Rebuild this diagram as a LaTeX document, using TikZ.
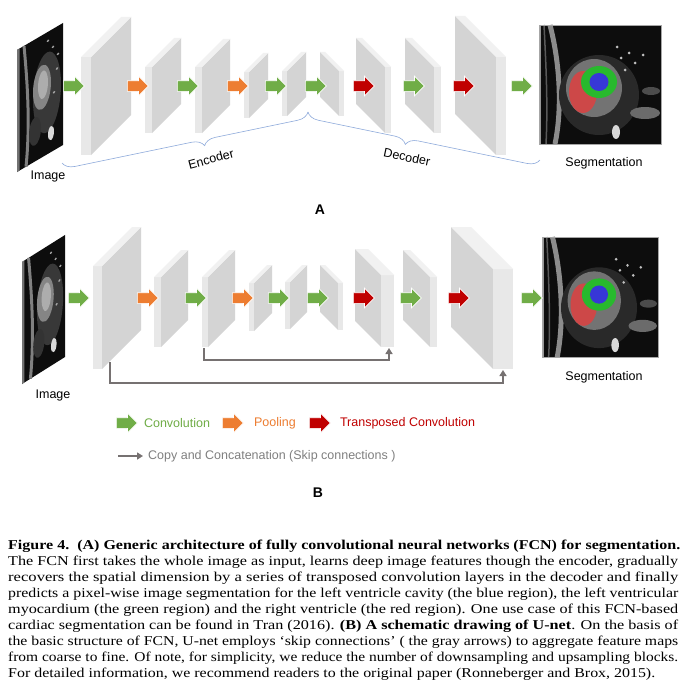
\documentclass[tikz,border=0pt]{standalone}
\usepackage{graphicx}
\usepackage{fontspec}
\setmainfont{Liberation Serif}
\setsansfont{Liberation Sans}
\usetikzlibrary{shapes,arrows.meta,positioning,decorations.pathreplacing}

\definecolor{convgreen}{RGB}{112,173,71}
\definecolor{poolorange}{RGB}{237,125,49}
\definecolor{tconvred}{RGB}{192,0,0}
\definecolor{skipgray}{RGB}{118,113,113}
\definecolor{skiptext}{RGB}{128,128,128}
\definecolor{braceblue}{RGB}{142,170,219}
\definecolor{slabface}{RGB}{212,212,212}
\definecolor{slabedge}{RGB}{232,232,232}
\definecolor{slabtop}{RGB}{241,241,241}
\definecolor{segred}{RGB}{205,72,72}
\definecolor{seggreen}{RGB}{40,185,45}
\definecolor{segblue}{RGB}{55,55,215}

\newcommand{\capline}[2]{\resizebox{#1}{\height}{#2}}

\tikzset{
  % input MRI slice, drawn in its own box (46 x 122)
  mri/.pic={
    \fill[black!95] (0,0) rectangle (46,122);
    \fill[black!55] (0,0) rectangle (2.5,122); % outer edge
    \draw[black!50, line width=3pt] (7,0) .. controls (11,45) and (13,85) .. (9,122); % body wall
    \fill[black!78] (30,60) ellipse [x radius=14, y radius=40]; % soft tissue
    \fill[black!48] (25,52) ellipse [x radius=9, y radius=22]; % heart
    \fill[black!32] (26,50) ellipse [x radius=5, y radius=14];
    \fill[black!80] (18,92) ellipse [x radius=6, y radius=14];
    \fill[white!85!black] (34,103) ellipse [x radius=3, y radius=7]; % bright spot
    \foreach \p in {(36,18),(41,28),(31,9),(40,42),(37,64)}
      \fill[black!35] \p circle (1.3);
  },
  % segmented slice (122 x 119)
  segimg/.pic={
    \fill[black!95] (0,0) rectangle (122,119);
    \fill[black!40] (0,0) rectangle (2,119);
    \draw[black!65, line width=1.5pt] (5,0) .. controls (7,40) and (9,80) .. (7,119);
    \draw[black!45, line width=5pt] (11,0) .. controls (20,35) and (24,80) .. (16,119); % body wall
    \fill[black!84] (60,70) ellipse [x radius=40, y radius=40]; % soft tissue
    \fill[black!55] (55,63) ellipse [x radius=28, y radius=29]; % tissue round the heart
    \fill[segred] (44,67) ellipse [x radius=14, y radius=21]; % right ventricle
    \fill[seggreen] (60,57) ellipse [x radius=18, y radius=16]; % myocardium
    \fill[segblue] (60,57) ellipse [x radius=9.5, y radius=9]; % cavity
    \fill[white!85!black] (77,107) ellipse [x radius=4, y radius=7]; % bright spot
    \fill[black!58] (106,88) ellipse [x radius=15, y radius=6];
    \fill[black!70] (112,66) ellipse [x radius=9, y radius=4];
    \foreach \p in {(82,33),(90,28),(96,38),(86,45),(104,30),(78,22)}
      \fill[black!25] \p circle (1.5);
    \draw[black!35, line width=0.6pt] (0,0) rectangle (122,119);
  }
}

\begin{document}
\begin{tikzpicture}[x=1pt, y=-1pt,
  lbl/.style={font=\sffamily\fontsize{12.5}{14}\selectfont, inner sep=0pt},
  panel/.style={font=\sffamily\bfseries\fontsize{14}{16}\selectfont, inner sep=0pt},
  blockarrow/.style={single arrow, draw=white, line width=0.7pt, minimum height=21pt,
    minimum width=19pt, single arrow head extend=4.5pt, inner xsep=0pt, inner ysep=5pt,
    anchor=tail},
  convarrow/.style={blockarrow, fill=convgreen},
  poolarrow/.style={blockarrow, fill=poolorange},
  tconvarrow/.style={blockarrow, fill=tconvred},
  skip/.style={draw=skipgray, line width=1.8pt, -{Triangle[width=7pt,length=6pt]}},
  bracket/.style={draw=braceblue, line width=0.6pt, decorate,
    decoration={brace, mirror, amplitude=12pt, aspect=#1}},
  capfont/.style={font=\fontsize{13.5}{16}\selectfont, inner sep=0pt, anchor=base west}]

  \fill[white] (0,0) rectangle (684,693);
  \useasboundingbox (0,0) rectangle (684,693);

  % input images
  \begin{scope}[shift={(17,50)}, yslant=0.587]
    \pic[transform shape] {mri};
  \end{scope}
  \begin{scope}[shift={(22,262)}, yslant=0.628, xscale=0.935]
    \pic[transform shape] {mri};
  \end{scope}

  % output segmentations
  \begin{scope}[shift={(539,25)}]
    \pic[transform shape] {segimg};
  \end{scope}
  \begin{scope}[shift={(542,237)}, xscale=0.95, yscale=1.01]
    \pic[transform shape] {segimg};
  \end{scope}

  % encoder feature maps (front edge on the left)
  \foreach \a/\t/\b/\d/\w in {91/57/155/40/10, 152/67/133/29/7, 202/67/133/28/7,
      249/72/118/19/5, 287/71/116/19/5, 102/266/369/39/9, 161/277/347/27/7,
      208/277/347/27/6, 254/283/331/18/5, 290/282/329/17/5}{
    \fill[slabface] (\a,\t) -- (\a+\d,\t-\d) -- (\a+\d,\b-\d) -- (\a,\b) -- cycle;
    \fill[slabedge] (\a-\w,\t) rectangle (\a,\b);
    \fill[slabtop] (\a-\w,\t) -- (\a,\t) -- (\a+\d,\t-\d) -- (\a+\d-\w,\t-\d) -- cycle;
  }
  % decoder feature maps (front edge on the right)
  \foreach \a/\t/\b/\d/\w in {339/71/116/19/5, 385/67/133/29/6, 434/67/133/29/7,
      496/57/155/41/10, 338/283/330/18/5, 381/275/347/26/13, 430/277/347/27/7,
      493/269/369/42/20}{
    \fill[slabface] (\a-\d,\t-\d) -- (\a,\t) -- (\a,\b) -- (\a-\d,\b-\d) -- cycle;
    \fill[slabedge] (\a,\t) rectangle (\a+\w,\b);
    \fill[slabtop] (\a-\d,\t-\d) -- (\a-\d+\w,\t-\d) -- (\a+\w,\t) -- (\a,\t) -- cycle;
  }

  % layer arrows
  \foreach \x/\s [count=\i] in {63/convarrow, 127/poolarrow, 177/convarrow, 227/poolarrow,
      265/convarrow, 305/convarrow, 353/tconvarrow, 403/convarrow, 453/tconvarrow, 511/convarrow}
    \node[\s] (fa\i) at (\x,86) {};
  \foreach \x/\s [count=\i] in {68/convarrow, 137/poolarrow, 185/convarrow, 232/poolarrow,
      268/convarrow, 307/convarrow, 353/tconvarrow, 400/convarrow, 448/tconvarrow, 521/convarrow}
    \node[\s] (ua\i) at (\x,298) {};

  % braces
  \coordinate (encL) at (62,163);
  \coordinate (encR) at (308,112);
  \coordinate (decR) at (540,160);
  \draw[bracket=0.57] (encL) -- (encR);
  \draw[bracket=0.43] (encR) -- (decR);
  \node[lbl, rotate=15] (enc) at (211,159) {Encoder};
  \node[lbl, rotate=-12] (dec) at (407,157) {Decoder};

  % skip connections
  \coordinate (skip3) at (204,348);
  \coordinate (skip7) at (389,348);
  \coordinate (skip1) at (110,362);
  \coordinate (skip9) at (503,370);
  \draw[skip] (skip3) -- ++(0,12) -| (skip7);
  \draw[skip] (skip1) -- ++(0,21) -| (skip9);

  % labels
  \node[lbl] (imgA) at (48,176) {Image};
  \node[lbl] (segA) at (604,163) {Segmentation};
  \node[lbl] (imgB) at (53,395) {Image};
  \node[lbl] (segB) at (604,377) {Segmentation};
  \node[panel] (panelA) at (320,210) {A};
  \node[panel] (panelB) at (318,493) {B};

  % legend
  \node[convarrow] (lgconv) at (116,423) {};
  \node[lbl, text=convgreen, right=6pt of lgconv] (lgconvtxt) {Convolution};
  \node[poolarrow] (lgpool) at (222,423) {};
  \node[lbl, text=poolorange, right=10pt of lgpool] (lgpooltxt) {Pooling};
  \node[tconvarrow] (lgtconv) at (309,423) {};
  \node[lbl, text=tconvred, right=9pt of lgtconv] (lgtconvtxt) {Transposed Convolution};
  \coordinate (lgskipL) at (118,456);
  \coordinate (lgskipR) at (143,456);
  \draw[skip, line width=1.5pt] (lgskipL) -- (lgskipR);
  \node[lbl, text=skiptext, right=5pt of lgskipR] (lgskiptxt) {Copy and Concatenation (Skip connections )};

  % caption
  \node[capfont] (cap1) at (8,549) {\capline{672pt}{\textbf{Figure 4.\ \ (A) Generic architecture of fully convolutional neural networks (FCN) for segmentation.}}};
  \node[capfont] (cap2) at (8,565) {\capline{670pt}{The FCN first takes the whole image as input, learns deep image features though the encoder, gradually}};
  \node[capfont] (cap3) at (8,581) {\capline{670pt}{recovers the spatial dimension by a series of transposed convolution layers in the decoder and finally}};
  \node[capfont] (cap4) at (8,597) {\capline{670pt}{predicts a pixel-wise image segmentation for the left ventricle cavity (the blue region), the left ventricular}};
  \node[capfont] (cap5) at (8,613) {\capline{670pt}{myocardium (the green region) and the right ventricle (the red region). One use case of this FCN-based}};
  \node[capfont] (cap6) at (8,629) {\capline{670pt}{cardiac segmentation can be found in Tran (2016). \textbf{(B) A schematic drawing of U-net}. On the basis of}};
  \node[capfont] (cap7) at (8,645) {\capline{670pt}{the basic structure of FCN, U-net employs ‘skip connections’ ( the gray arrows) to aggregate feature maps}};
  \node[capfont] (cap8) at (8,661) {\capline{670pt}{from coarse to fine. Of note, for simplicity, we reduce the number of downsampling and upsampling blocks.}};
  \node[capfont] (cap9) at (8,677) {\capline{647pt}{For detailed information, we recommend readers to the original paper (Ronneberger and Brox, 2015).}};
\end{tikzpicture}
\end{document}
